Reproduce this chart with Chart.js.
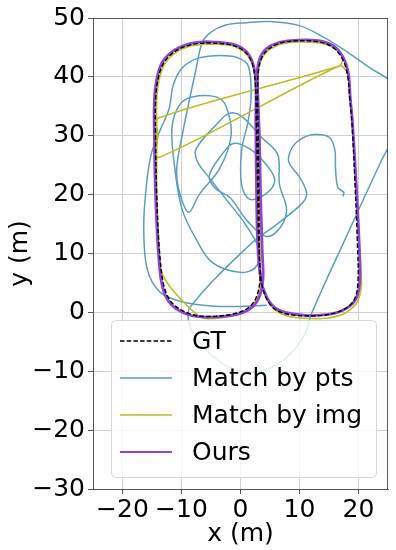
<!DOCTYPE html>
<html>
<head>
<meta charset="utf-8">
<script src="https://cdn.jsdelivr.net/npm/chart.js@4.4.1/dist/chart.umd.min.js"></script>
<style>
  html, body { margin: 0; padding: 0; background: #fff; }
  #wrap { width: 396px; height: 550px; }
</style>
</head>
<body>
<div id="wrap"><canvas id="chart"></canvas></div>
<script>
// axis ticks
const xTicks = [-20, -10, 0, 10, 20];
const yTicks = [-30, -20, -10, 0, 10, 20, 30, 40, 50];
const seriesNames = ["GT", "Match by pts", "Match by img", "Ours"];

// trajectories, [x, y] in metres
const gtPath = [
  [-5.8, 45.8], [-1.5, 45.4], [0.8, 44.2], [2.0, 42.2], [2.5, 39], [2.7, 32], [2.9, 22], [3.1, 12],
  [3.5, 5.5], [4.2, 2.8], [5.5, 0.8], [7.5, -0.2], [11, -0.6], [14.6, -0.4], [17.3, 0.4], [19.2, 2],
  [19.9, 5], [19.8, 12], [19.4, 22], [18.9, 32], [18.5, 36.5], [18.1, 40.5], [17.2, 43.2], [15.5, 45.1],
  [12.9, 46], [8, 46], [5.5, 45.2], [3.9, 43.8], [3.1, 41.5], [2.9, 38], [3.0, 30], [3.1, 20],
  [3.2, 10], [3.3, 5.5], [2.6, 2.4], [1.2, 0.7], [-1.4, -0.3], [-5.8, -0.7], [-8.7, -0.2], [-11.5, 1.5],
  [-12.9, 4.2], [-13.7, 10], [-14.2, 20], [-14.4, 30], [-14.4, 36], [-14.0, 39.5], [-13.1, 42.2], [-11.3, 44.2],
  [-8.6, 45.4], [-5.8, 45.8]
];

const ptsPath = [
  [4.4, 1.2], [-0.5, 1.0], [-5, 1.1], [-9.9, 1.8], [-13.6, 3.4], [-15.8, 7.3], [-16.4, 14.6], [-15.9, 22],
  [-15.1, 27], [-13.6, 31], [-12.1, 34.6], [-11.4, 38.6], [-9.9, 41.5], [-7.4, 43.1], [-4.2, 43.6], [-0.6, 43.3],
  [1.3, 41.9], [1.8, 37], [1.3, 32.5], [0.2, 27.6], [0.2, 21.6], [1.6, 19.2], [4.4, 20.2], [5.8, 22.5],
  [4.2, 25.3], [1.5, 27.8], [-1.2, 28.7], [-3, 27], [-5.3, 23.2], [-4.2, 21], [-1.8, 19.5], [1.2, 15.5],
  [4.4, 12.9], [6.8, 14.5], [7.8, 17.5], [6.6, 21.8], [6.3, 26.8], [3.5, 29.8], [0.2, 33.3], [-1.9, 33.8],
  [-4, 32], [-7.5, 27.8], [-7.3, 25.6], [-5, 22.5], [-2.6, 19.4], [0.8, 15], [3.2, 10.5], [2.5, 7.6],
  [-0.2, 6.8], [-4.8, 8.5], [-7.5, 12.4], [-9.9, 17.5], [-11.2, 25], [-11.6, 31.5], [-10.3, 35.3], [-8.2, 36.6],
  [-4.1, 36.6], [-2.4, 34.9], [-1.6, 30], [-3.5, 24.5], [-7, 20], [-8.8, 17], [-10.5, 21], [-10.8, 24.6],
  [-9.8, 30.5], [-8.7, 35.9], [-7.6, 41], [-6.5, 45.8], [-5, 47.6], [-2.5, 48.8], [1, 49.2], [5, 49.4],
  [10, 48.7], [14, 46.8], [18, 44.3], [22, 41.5], [25.5, 39.2], [27.5, 36], [26.5, 31], [24, 26],
  [18, 13], [12, -0.3], [11, -3.5], [8.5, -7], [5, -9.5], [1.5, -10.2], [-2, -9.3], [-5, -7.2],
  [-7.5, -4.5], [-8.7, -2], [-8.6, 0.8], [1.5, 11.4], [6.6, 15.3], [10.5, 18.6], [11.2, 20.3], [10, 23],
  [8.2, 25.5], [8.5, 27.5], [10, 29.3], [12.5, 30.2], [15.1, 29.7], [16, 27.5], [16.1, 24.5], [16.5, 21.2],
  [17.5, 20.4], [17.4, 19.8]
];

const imgPath = [
  [-5.8, 45.6], [-1.5, 45.3], [0.9, 44.0], [2.1, 42], [2.6, 38.5], [2.8, 30], [3.0, 20], [3.2, 10],
  [3.6, 5.2], [4.4, 2.4], [6, 0.3], [8, -0.6], [11, -1.0], [14.6, -1.0], [17.6, -0.2], [19.7, 1.6],
  [20.5, 4.5], [20.1, 12], [19.6, 22], [19.0, 32], [18.6, 37], [18.2, 40.5], [16.8, 41.9], [-13.9, 26.3],
  [-14.0, 30], [-13.9, 33], [16.8, 41.9], [17.3, 43.4], [15.5, 45.1], [12.9, 45.8], [8, 45.8], [5.5, 45],
  [3.9, 43.6], [3.1, 41.3], [3.0, 38], [3.1, 30], [3.2, 20], [3.3, 10], [3.4, 5.5], [2.7, 2.2],
  [1.2, 0.4], [-1.4, -0.6], [-6.5, -0.9], [-11.6, 3.9], [-13.4, 7], [-14, 15], [-14.2, 22], [-14.2, 30],
  [-14.2, 36], [-13.8, 39.5], [-12.9, 42.1], [-11.2, 44], [-8.6, 45.2], [-5.8, 45.6]
];

const oursPath = [
  [-5.8, 46.0], [-1.5, 45.6], [0.9, 44.4], [2.1, 42.3], [2.6, 39], [2.6, 32], [2.7, 22], [2.9, 12],
  [3.4, 5.8], [4.3, 2.9], [5.7, 0.9], [7.6, 0], [11, -0.5], [14.6, -0.4], [17.3, 0.3], [19.4, 2],
  [20.2, 5], [20.1, 12], [19.6, 22], [19.0, 32], [18.6, 36.5], [18.3, 40.5], [17.4, 43.3], [15.7, 45.3],
  [12.9, 46.2], [8, 46.1], [5.4, 45.4], [3.7, 44], [2.9, 41.5], [2.9, 38], [3.2, 30], [3.4, 20],
  [3.7, 10], [3.8, 5.5], [3, 2.2], [1.3, 0.4], [-1.4, -0.5], [-5.8, -0.8], [-8.8, -0.4], [-11.7, 1.3],
  [-13.2, 4.2], [-13.9, 10], [-14.4, 20], [-14.6, 30], [-14.6, 36], [-14.2, 39.6], [-13.3, 42.4], [-11.4, 44.4],
  [-8.7, 45.6], [-5.8, 46.0]
];

const colors = ["#000000", "#5a9ec2", "#bcbd22", "#8e44d6"];

function toPoints(path) {
  return path.map((p) => ({ x: p[0], y: p[1] }));
}

function fmt(v) {
  return v < 0 ? "\u2212" + Math.abs(v) : String(v);
}

const font = { family: "DejaVu Sans", size: 25 };

// matplotlib style box + legend inside the axes
const framePlugin = {
  id: "frame",
  afterDraw(chart) {
    const ctx = chart.ctx;
    const a = chart.chartArea;
    ctx.save();
    ctx.strokeStyle = "#555";
    ctx.lineWidth = 1;
    ctx.strokeRect(a.left + 0.5, a.top + 0.5, a.right - a.left - 1, a.bottom - a.top);

    // legend
    const bx = a.left + 18, by = a.top + 302, bw = 265, bh = 157;
    ctx.fillStyle = "rgba(255,255,255,0.8)";
    ctx.strokeStyle = "#d8d8d8";
    ctx.beginPath();
    ctx.roundRect(bx + 0.5, by + 0.5, bw, bh, 4);
    ctx.fill();
    ctx.stroke();

    const ds = chart.data.datasets;
    ctx.font = "25px 'DejaVu Sans'";
    ctx.textBaseline = "middle";
    for (let i = 0; i < seriesNames.length; i++) {
      const yy = by + 21 + i * 37;
      ctx.beginPath();
      ctx.strokeStyle = ds[i].borderColor;
      ctx.lineWidth = Math.min(ds[i].borderWidth, 2);
      ctx.setLineDash(ds[i].borderDash || []);
      ctx.moveTo(bx + 9, yy);
      ctx.lineTo(bx + 61, yy);
      ctx.stroke();
      ctx.setLineDash([]);
      ctx.fillStyle = "#000";
      ctx.fillText(seriesNames[i], bx + 81, yy + 1);
    }
    ctx.restore();
  },
};

const lineStyle = {
  pointRadius: 0,
  fill: false,
  tension: 0.35,
  borderJoinStyle: "round",
  borderCapStyle: "round",
};

new Chart(document.getElementById("chart"), {
  type: "line",
  data: {
    datasets: [
      { ...lineStyle, label: seriesNames[0], data: toPoints(gtPath), borderColor: colors[0], borderWidth: 1.4, borderDash: [4.5, 2.2], borderCapStyle: "butt", order: 0 },
      { ...lineStyle, label: seriesNames[1], data: toPoints(ptsPath), borderColor: colors[1], borderWidth: 1.5, order: 3 },
      { ...lineStyle, label: seriesNames[2], data: toPoints(imgPath), borderColor: colors[2], borderWidth: 1.6, tension: 0.25, order: 2 },
      { ...lineStyle, label: seriesNames[3], data: toPoints(oursPath), borderColor: colors[3], borderWidth: 2.8, order: 1 },
    ],
  },
  options: {
    responsive: true,
    maintainAspectRatio: false,
    animation: false,
    layout: { padding: { top: 18, right: 8, left: 0, bottom: 0 } },
    scales: {
      x: {
        type: "linear",
        min: -25,
        max: 25,
        afterBuildTicks: (s) => { s.ticks = xTicks.map((v) => ({ value: v })); },
        afterFit: (s) => { s.height = 61; },
        ticks: { font: font, color: "#000", padding: 1, maxRotation: 0, callback: (v) => fmt(v) },
        grid: { color: "#d0d0d0", tickLength: 5, tickColor: "#555" },
        border: { color: "#555" },
        title: { display: true, text: "x (m)", font: font, color: "#000", padding: { top: 0, bottom: 1 } },
      },
      y: {
        type: "linear",
        min: -30,
        max: 50,
        afterBuildTicks: (s) => { s.ticks = yTicks.map((v) => ({ value: v })); },
        afterFit: (s) => { s.width = 93; },
        ticks: { font: font, color: "#000", padding: 3, callback: (v) => fmt(v) },
        grid: { color: "#d0d0d0", tickLength: 5, tickColor: "#555" },
        border: { color: "#555" },
        title: { display: true, text: "y (m)", font: font, color: "#000", padding: { top: 5, bottom: 0 } },
      },
    },
    plugins: {
      legend: { display: false },
      tooltip: { enabled: false },
    },
  },
  plugins: [framePlugin],
});
</script>
</body>
</html>
